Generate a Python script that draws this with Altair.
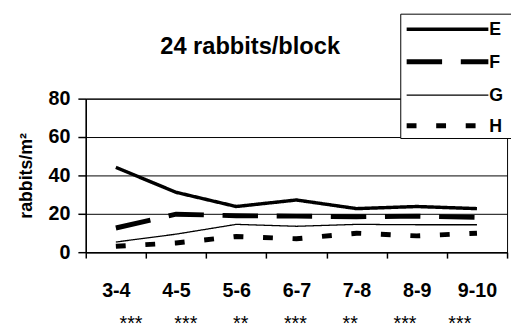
import altair as alt
import pandas as pd

periods = ["3-4", "4-5", "5-6", "6-7", "7-8", "8-9", "9-10"]
series_names = ["E", "F", "G", "H"]
E = [44.2, 31.2, 23.8, 27.2, 22.7, 23.8, 22.7]
F = [12.6, 19.8, 19.0, 18.8, 18.5, 18.8, 18.1]
G = [5.3, 9.4, 14.5, 13.5, 14.5, 14.3, 14.3]
H = [3.1, 4.8, 8.2, 7.0, 9.9, 8.5, 9.9]
significance = ["***", "***", "**", "***", "**", "***", "***"]
title_text = "24 rabbits/block"
y_title = "rabbits/m²"
y_ticks = [0, 20, 40, 60, 80]

values = {"E": E, "F": F, "G": G, "H": H}
rows = []
for s in series_names:
    for p, v in zip(periods, values[s]):
        rows.append({"period": p, "series": s, "value": v})
df = pd.DataFrame(rows)
sig_df = pd.DataFrame({"period": periods, "sig": significance})

FONT = "Liberation Sans"
styles = {
    "E": {"strokeWidth": 3.5, "strokeDash": [1, 0]},
    "F": {"strokeWidth": 5, "strokeDash": [36, 19]},
    "G": {"strokeWidth": 1.3, "strokeDash": [1, 0]},
    "H": {"strokeWidth": 5, "strokeDash": [10, 20]},
}

x_scale = alt.Scale(type="band", domain=periods, paddingInner=0, paddingOuter=0)
y_scale = alt.Scale(domain=[0, 80], nice=False)

x_axis = alt.Axis(title=None, labelAngle=0, tickBand="extent", tickSize=6,
                  labelPadding=23, labelFontSize=20, labelFontWeight="bold",
                  labelColor="black", domainColor="black", tickColor="black",
                  domainWidth=1.5, tickWidth=1.5, grid=False)
y_axis = alt.Axis(values=y_ticks, title=y_title, titleFontSize=18,
                  titleFontWeight="bold", titleColor="black", titlePadding=13,
                  labelFontSize=20, labelFontWeight="bold", labelColor="black",
                  tickSize=8, labelPadding=8, domainColor="black", tickColor="black",
                  domainWidth=1.5, tickWidth=1.5, grid=True, gridColor="black",
                  gridWidth=1, gridOpacity=1)

line_layers = []
for s in series_names:
    line_layers.append(
        alt.Chart(df).transform_filter(alt.datum.series == s).mark_line(
            color="black", strokeCap="butt", strokeJoin="miter",
            strokeWidth=styles[s]["strokeWidth"], strokeDash=styles[s]["strokeDash"],
        ).encode(
            x=alt.X("period:N", sort=periods, scale=x_scale, axis=x_axis),
            y=alt.Y("value:Q", scale=y_scale, axis=y_axis),
        )
    )
lines = alt.layer(*line_layers)

stars = alt.Chart(sig_df).mark_text(
    fontSize=20, align="center", baseline="top", color="black"
).encode(
    x=alt.X("period:N", sort=periods,
            scale=alt.Scale(type="point", domain=periods, range=[46, 380], padding=0),
            axis=None),
    y=alt.value(219),
    text="sig:N",
)

title_mark = alt.Chart(pd.DataFrame({"t": [title_text]})).mark_text(
    fontSize=24, fontWeight="bold", align="center", baseline="alphabetic", color="black"
).encode(text="t:N", x=alt.value(167), y=alt.value(-45.8))

# legend box
legend_box = alt.Chart(pd.DataFrame({"a": [0]})).mark_rect(
    fill="white", stroke="black", strokeWidth=1
).encode(x=alt.value(320), x2=alt.value(445), y=alt.value(-85.8), y2=alt.value(40.5))

legend_rows = {"E": -70.5, "F": -37.5, "G": -3.5, "H": 27.5}
legend_layers = [legend_box]
for s in series_names:
    legend_layers.append(
        alt.Chart(pd.DataFrame({"series": [s]})).mark_rule(
            color="black", strokeCap="butt",
            strokeWidth=styles[s]["strokeWidth"], strokeDash=styles[s]["strokeDash"],
        ).encode(x=alt.value(326), x2=alt.value(409), y=alt.value(legend_rows[s]))
    )
    legend_layers.append(
        alt.Chart(pd.DataFrame({"series": [s]})).mark_text(
            fontSize=18, fontWeight="bold", align="left", baseline="middle", color="black"
        ).encode(x=alt.value(410), y=alt.value(legend_rows[s] + 1), text="series:N")
    )

chart = alt.layer(lines, stars, title_mark, *legend_layers).resolve_scale(
    x="independent"
).properties(
    width=428, height=156,
    autosize=alt.AutoSizeParams(type="none"),
    padding={"left": 79, "top": 89.5, "right": 4, "bottom": 79},
).configure(font=FONT).configure_view(
    stroke="black", strokeWidth=1
)

chart.save("out.html", embed_options={"renderer": "svg", "actions": False})
